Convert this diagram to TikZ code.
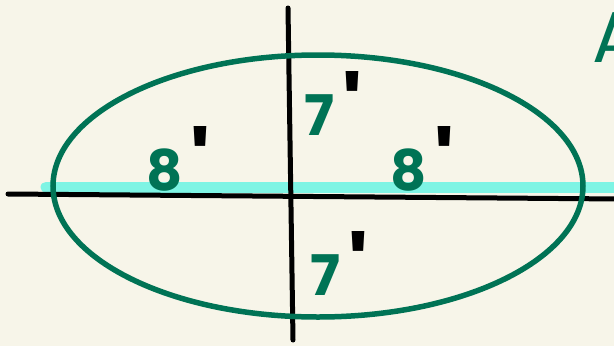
\documentclass[tikz,border=0pt]{standalone}
\usepackage{fontspec}
\setmainfont{Poppins}
\definecolor{paper}{RGB}{247,245,233}
\definecolor{inkGreen}{RGB}{0,115,85}
\definecolor{hiCyan}{RGB}{126,244,228}
\tikzset{
	axis/.style={line width=5pt, black, line cap=round},
	orbit/.style={line width=5.5pt, inkGreen},
	band/.style={line width=11pt, hiCyan, line cap=round},
	lab/.style={text=inkGreen, font=\fontsize{56}{56}\selectfont\bfseries, inner sep=0pt, anchor=base west}
}
\newcommand{\pr}{\textcolor{black}{\kern0.14em\raisebox{-8pt}{\fontsize{90}{90}\selectfont\textquotesingle}}}

\begin{document}
\begin{tikzpicture}[x=1pt, y=-1pt]
	\useasboundingbox (0,0) rectangle (614,346);
	\clip (0,0) rectangle (614,346);
	\fill[paper] (0,0) rectangle (614,346);
	% highlight and axes
	\coordinate (bl) at (46,187);
	\coordinate (br) at (620,187);
	\draw[band] (bl) -- (br);
	\coordinate (hl) at (8,194);
	\coordinate (hr) at (620,199);
	\coordinate (vt) at (288,8);
	\coordinate (vb) at (293,340);
	\draw[axis] (hl) -- (hr);
	\draw[axis] (vt) -- (vb);
	\draw[orbit] (318,186) ellipse [x radius=265, y radius=131];
	% labels
	\node[lab] (west) at (146,190) {8\pr};
	\node[lab] (east) at (390,190) {8\pr};
	\node[lab] (north) at (304,135) {7\pr};
	\node[lab] (south) at (310,295) {7\pr};
	\node[lab, font=\fontsize{72}{72}\selectfont] (corner) at (592,62) {A};
\end{tikzpicture}
\end{document}
